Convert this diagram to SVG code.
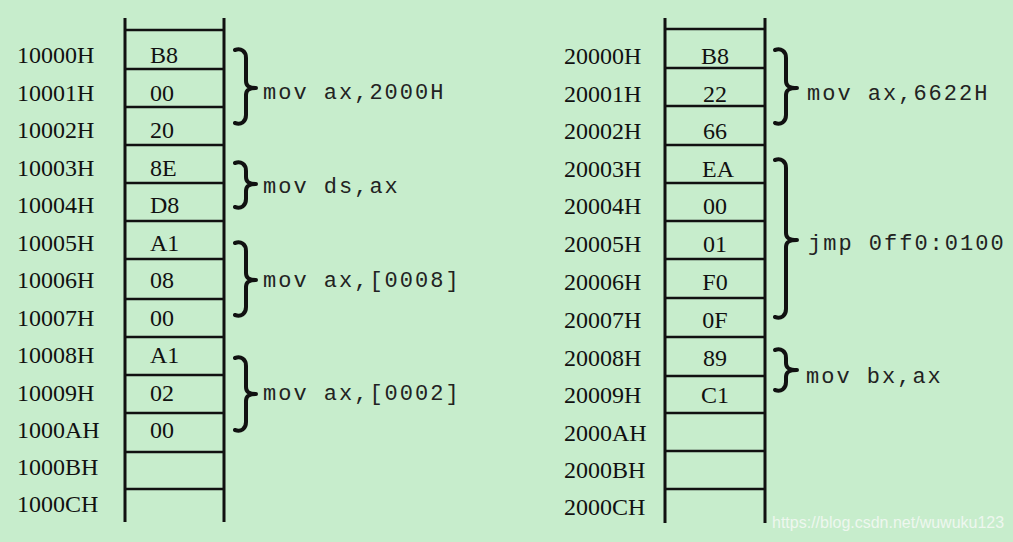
<svg xmlns="http://www.w3.org/2000/svg" width="1013" height="542" viewBox="0 0 1013 542">
<style>
.addr{font-family:"Liberation Serif","Times New Roman",serif;font-size:24px;fill:#111}
.byte{font-family:"Liberation Serif","Times New Roman",serif;font-size:24px;fill:#111}
.rb{text-anchor:middle}
.asm{font-family:"Liberation Mono","Courier New",monospace;font-size:22px;letter-spacing:2px;fill:#222}
.vl{stroke:#111;stroke-width:3;fill:none}
.hl{stroke:#111;stroke-width:2.6;fill:none}
.br{stroke:#111;stroke-width:4;fill:none;stroke-linecap:round;stroke-linejoin:round}
.wm{font-family:"Liberation Sans",Arial,sans-serif;font-size:16px;fill:#eef7ef}
</style>
<rect width="1013" height="542" fill="#C7EDCC"/>

<g id="connectors">
  <g id="col-left-lines">
    <path class="vl" d="M125,18 V522 M224,18 V522"/>
    <path class="hl" d="M125,30 H224 M125,69 H224 M125,107 H224 M125,145 H224 M125,183 H224 M125,221 H224 M125,259 H224 M125,299 H224 M125,337 H224 M125,375 H224 M125,413 H224 M125,452 H224 M125,489 H224"/>
  </g>
  <g id="col-right-lines">
    <path class="vl" d="M665,18 V523 M765,18 V523"/>
    <path class="hl" d="M665,29 H765 M665,68 H765 M665,106 H765 M665,145 H765 M665,183 H765 M665,221 H765 M665,259 H765 M665,298 H765 M665,337 H765 M665,376 H765 M665,413 H765 M665,451 H765 M665,489 H765"/>
  </g>
  <g id="braces">
    <path class="br" d="M235,50 C241,48 246,51 246,58 L246,81 C246,86 249,88 256,88 C249,88 246,90 246,95 L246,115 C246,122 241,125 235,123"/>
    <path class="br" d="M235,163 C241,161 246,164 246,171 L246,177 C246,182 249,184 256,184 C249,184 246,186 246,191 L246,199 C246,206 241,209 235,207"/>
    <path class="br" d="M235,243 C241,241 246,244 246,251 L246,273 C246,278 249,280 256,280 C249,280 246,282 246,287 L246,307 C246,314 241,317 235,315"/>
    <path class="br" d="M235,358 C241,356 246,359 246,366 L246,387 C246,392 249,394 256,394 C249,394 246,396 246,401 L246,422 C246,429 241,432 235,430"/>
    <path class="br" d="M775,50 C781,48 786,51 786,58 L786,81 C786,86 789,88 797,88 C789,88 786,90 786,95 L786,115 C786,122 781,125 775,123"/>
    <path class="br" d="M775,160 C781,158 786,161 786,168 L786,233 C786,238 789,240 797,240 C789,240 786,242 786,247 L786,309 C786,316 781,319 775,317"/>
    <path class="br" d="M775,350 C781,348 786,351 786,358 L786,363 C786,368 789,370 797,370 C789,370 786,372 786,377 L786,382 C786,389 781,392 775,390"/>
  </g>
</g>

<g id="m10000"><text class="addr" x="17" y="63">10000H</text><text class="byte" x="150" y="63">B8</text></g>
<g id="m10001"><text class="addr" x="17" y="101">10001H</text><text class="byte" x="150" y="101">00</text></g>
<g id="m10002"><text class="addr" x="17" y="138">10002H</text><text class="byte" x="150" y="138">20</text></g>
<g id="m10003"><text class="addr" x="17" y="176">10003H</text><text class="byte" x="150" y="176">8E</text></g>
<g id="m10004"><text class="addr" x="17" y="213">10004H</text><text class="byte" x="150" y="213">D8</text></g>
<g id="m10005"><text class="addr" x="17" y="251">10005H</text><text class="byte" x="150" y="251">A1</text></g>
<g id="m10006"><text class="addr" x="17" y="288">10006H</text><text class="byte" x="150" y="288">08</text></g>
<g id="m10007"><text class="addr" x="17" y="326">10007H</text><text class="byte" x="150" y="326">00</text></g>
<g id="m10008"><text class="addr" x="17" y="363">10008H</text><text class="byte" x="150" y="363">A1</text></g>
<g id="m10009"><text class="addr" x="17" y="401">10009H</text><text class="byte" x="150" y="401">02</text></g>
<g id="m1000A"><text class="addr" x="17" y="438">1000AH</text><text class="byte" x="150" y="438">00</text></g>
<g id="m1000B"><text class="addr" x="17" y="475">1000BH</text></g>
<g id="m1000C"><text class="addr" x="17" y="512">1000CH</text></g>

<g id="m20000"><text class="addr" x="564" y="64">20000H</text><text class="byte rb" x="715" y="64">B8</text></g>
<g id="m20001"><text class="addr" x="564" y="102">20001H</text><text class="byte rb" x="715" y="102">22</text></g>
<g id="m20002"><text class="addr" x="564" y="139">20002H</text><text class="byte rb" x="715" y="139">66</text></g>
<g id="m20003"><text class="addr" x="564" y="177">20003H</text><text class="byte rb" x="718" y="177">EA</text></g>
<g id="m20004"><text class="addr" x="564" y="214">20004H</text><text class="byte rb" x="715" y="214">00</text></g>
<g id="m20005"><text class="addr" x="564" y="252">20005H</text><text class="byte rb" x="715" y="252">01</text></g>
<g id="m20006"><text class="addr" x="564" y="290">20006H</text><text class="byte rb" x="715" y="290">F0</text></g>
<g id="m20007"><text class="addr" x="564" y="328">20007H</text><text class="byte rb" x="715" y="328">0F</text></g>
<g id="m20008"><text class="addr" x="564" y="366">20008H</text><text class="byte rb" x="715" y="366">89</text></g>
<g id="m20009"><text class="addr" x="564" y="403">20009H</text><text class="byte rb" x="715" y="403">C1</text></g>
<g id="m2000A"><text class="addr" x="564" y="441">2000AH</text></g>
<g id="m2000B"><text class="addr" x="564" y="478">2000BH</text></g>
<g id="m2000C"><text class="addr" x="564" y="515">2000CH</text></g>

<g id="ins1"><text class="asm" x="263" y="99">mov ax,2000H</text></g>
<g id="ins2"><text class="asm" x="263" y="193">mov ds,ax</text></g>
<g id="ins3"><text class="asm" x="263" y="287">mov ax,[0008]</text></g>
<g id="ins4"><text class="asm" x="263" y="400">mov ax,[0002]</text></g>
<g id="ins5"><text class="asm" x="807" y="100">mov ax,6622H</text></g>
<g id="ins6"><text class="asm" x="808" y="250">jmp 0ff0:0100</text></g>
<g id="ins7"><text class="asm" x="806" y="383">mov bx,ax</text></g>

<text class="wm" x="772" y="528">https://blog.csdn.net/wuwuku123</text>
</svg>
